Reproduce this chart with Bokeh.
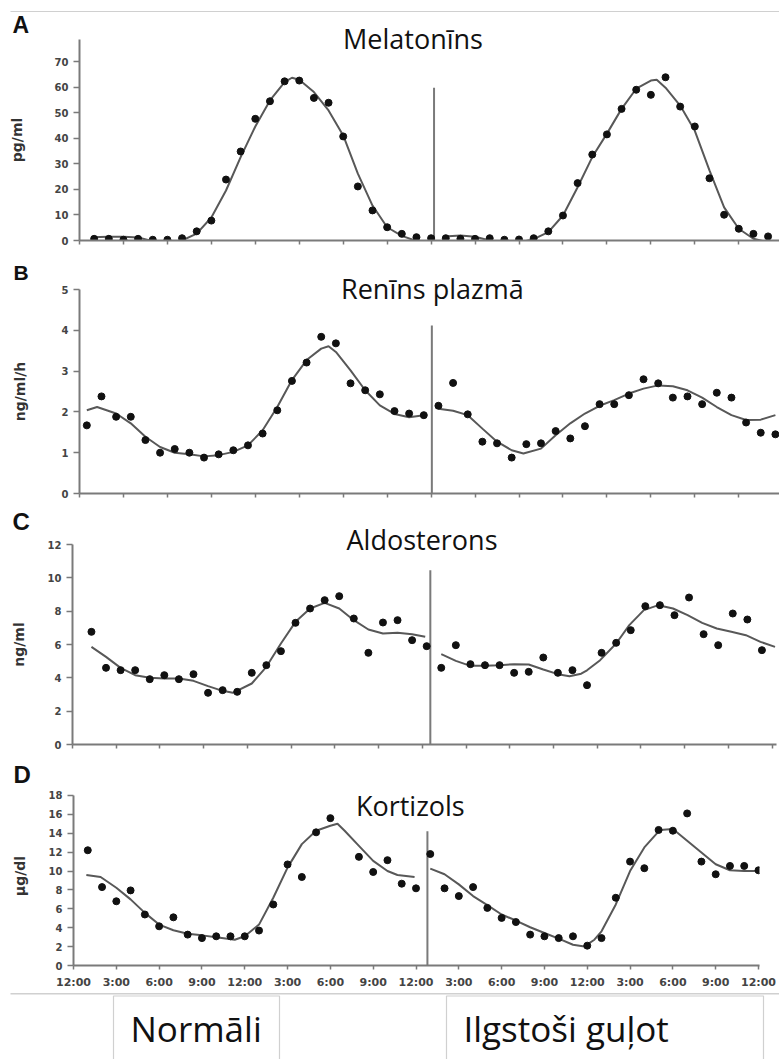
from bokeh.plotting import figure
from bokeh.layouts import column
from bokeh.models import Range1d, FixedTicker, Label, Title
from bokeh.core.properties import value
from bokeh.embed import file_html
from bokeh.resources import INLINE

# ---------------- data ----------------
tick_hours = [0, 3, 6, 9, 12, 15, 18, 21, 24, 27, 30, 33, 36, 39, 42, 45, 48]
tick_labels = ["12:00", "3:00", "6:00", "9:00", "12:00", "3:00", "6:00", "9:00",
               "12:00", "3:00", "6:00", "9:00", "12:00", "3:00", "6:00", "9:00", "12:00"]
groups = ["Normāli", "Ilgstoši guļot"]

# A: Melatonin (pg/ml)
mel_n_h = [1, 2, 3, 4, 5, 6, 7, 8, 9, 10, 11, 12, 13, 14, 15, 16, 17, 18, 19, 20, 21, 22, 23, 24]
mel_n_v = [0.65, 0.65, 0.3, 0.65, 0.3, 0.3, 0.9, 3.6, 7.8, 23.9, 34.9, 47.7, 54.6, 62.4,
           62.7, 55.9, 54.0, 40.8, 21.2, 11.8, 5.2, 2.6, 1.3, 0.9]
mel_l_h = [25, 26, 27, 28, 29, 30, 31, 32, 33, 34, 35, 36, 37, 38, 39, 40, 41, 42, 43, 44, 45, 46, 47]
mel_l_v = [0.9, 0.65, 0.65, 0.9, 0.3, 0.4, 0.9, 3.6, 9.8, 22.5, 33.7, 41.6, 51.6, 59.1,
           57.1, 64.0, 52.5, 44.7, 24.4, 10.1, 4.6, 2.6, 1.6]
mel_n_fit_h = [0.8, 2, 3, 4, 5, 5.5, 6.5, 7, 8, 9, 10, 11, 12, 13, 14, 14.5, 15, 16, 17, 18,
               19, 20, 21, 22, 23, 24]
mel_n_fit_v = [1.3, 1.5, 1.5, 1.2, -0.3, -0.8, -0.7, 0.0, 2.7, 9.0, 19.6, 32.7, 44.7, 54.9,
               62.1, 63.8, 63.0, 58.2, 51.0, 41.2, 26.2, 13.7, 5.2, 1.8, -0.2, -0.5]
mel_l_fit_h = [24.9, 26, 27, 28, 29, 30, 31, 32, 33, 34, 35, 36, 37, 38, 39, 39.4, 40, 41,
               42, 43, 44, 45, 46, 47, 47.8]
mel_l_fit_v = [1.6, 2.0, 1.5, 0.0, -0.8, -0.8, 0.5, 3.3, 9.8, 20.9, 32.7, 41.9, 51.6, 59.5,
               62.7, 63.0, 59.9, 52.9, 43.0, 27.5, 13.0, 4.6, 0.7, -0.7, -0.3]

# B: Plasma renin (ng/ml/h)
ren_n_h = [0.5, 1.5, 2.5, 3.5, 4.5, 5.5, 6.5, 7.5, 8.5, 9.5, 10.5, 11.5, 12.5, 13.5, 14.5,
           15.5, 16.5, 17.5, 18.5, 19.5, 20.5, 21.5, 22.5, 23.5]
ren_n_v = [1.67, 2.38, 1.88, 1.88, 1.31, 1.0, 1.09, 1.0, 0.88, 0.96, 1.06, 1.18, 1.47, 2.04,
           2.76, 3.21, 3.84, 3.68, 2.7, 2.53, 2.43, 2.02, 1.96, 1.92]
ren_l_h = [24.5, 25.5, 26.5, 27.5, 28.5, 29.5, 30.5, 31.5, 32.5, 33.5, 34.5, 35.5, 36.5,
           37.5, 38.5, 39.5, 40.5, 41.5, 42.5, 43.5, 44.5, 45.5, 46.5, 47.5]
ren_l_v = [2.15, 2.71, 1.94, 1.27, 1.23, 0.88, 1.21, 1.23, 1.53, 1.35, 1.65, 2.19, 2.19,
           2.41, 2.8, 2.7, 2.35, 2.38, 2.19, 2.47, 2.35, 1.74, 1.49, 1.45]
ren_n_fit_h = [0.5, 1.2, 2.5, 3.5, 4.5, 5.5, 6.5, 7.5, 8.5, 9.5, 10.5, 11.5, 12.5, 13.5,
               14.5, 15.5, 16.5, 17.0, 17.5, 18.5, 19.5, 20.5, 21.5, 22.5, 23.5]
ren_n_fit_v = [2.04, 2.12, 1.96, 1.72, 1.39, 1.14, 1.0, 0.96, 0.91, 0.94, 1.02, 1.18, 1.55,
               2.12, 2.78, 3.27, 3.55, 3.61, 3.47, 3.02, 2.53, 2.16, 1.95, 1.87, 1.92]
ren_l_fit_h = [24.5, 25.5, 26.5, 27.5, 28.5, 29.5, 30.3, 31.5, 32.5, 33.5, 34.5, 35.5, 36.5,
               37.5, 38.5, 39.5, 40.5, 41.5, 42.5, 43.5, 44.5, 45.5, 46.5, 47.5]
ren_l_fit_v = [2.08, 2.03, 1.92, 1.59, 1.27, 1.06, 0.98, 1.1, 1.43, 1.72, 1.96, 2.15, 2.29,
               2.45, 2.57, 2.65, 2.63, 2.53, 2.35, 2.12, 1.92, 1.8, 1.81, 1.92]

# C: Aldosterone (ng/ml)
ald_n_h = [1.3, 2.3, 3.3, 4.3, 5.3, 6.3, 7.3, 8.3, 9.3, 10.3, 11.3, 12.3, 13.3, 14.3, 15.3,
           16.3, 17.3, 18.3, 19.3, 20.3, 21.3, 22.3, 23.3, 24.3]
ald_n_v = [6.76, 4.6, 4.46, 4.46, 3.92, 4.16, 3.92, 4.22, 3.1, 3.26, 3.16, 4.3, 4.76, 5.6,
           7.3, 8.16, 8.66, 8.9, 7.56, 5.5, 7.32, 7.46, 6.26, 5.9]
ald_l_h = [25.3, 26.3, 27.3, 28.3, 29.3, 30.3, 31.3, 32.3, 33.3, 34.3, 35.3, 36.3, 37.3,
           38.3, 39.3, 40.3, 41.3, 42.3, 43.3, 44.3, 45.3, 46.3, 47.3]
ald_l_v = [4.6, 5.96, 4.82, 4.76, 4.76, 4.3, 4.36, 5.22, 4.3, 4.46, 3.56, 5.5, 6.1, 6.86,
           8.3, 8.36, 7.76, 8.82, 6.62, 5.96, 7.86, 7.5, 5.66]
ald_n_fit_h = [1.3, 2.3, 3.3, 4.3, 5.3, 6.3, 7.3, 8.3, 9.3, 10.3, 11.0, 12.3, 13.3, 14.3,
               15.3, 16.3, 17.3, 18.3, 19.3, 20.3, 21.3, 22.3, 23.3, 24.2]
ald_n_fit_v = [5.86, 5.26, 4.6, 4.16, 4.0, 3.96, 3.96, 3.82, 3.5, 3.22, 3.1, 3.66, 4.66,
               6.06, 7.36, 8.16, 8.5, 8.16, 7.46, 6.9, 6.66, 6.7, 6.62, 6.46]
ald_l_fit_h = [25.3, 26.3, 27.3, 28.3, 29.3, 30.3, 31.3, 32.3, 33.3, 34.1, 34.9, 35.3, 36.2,
               37.3, 38.2, 39.2, 40.2, 41.2, 42.2, 43.2, 44.2, 45.2, 46.2, 47.2, 48.2]
ald_l_fit_v = [5.42, 5.02, 4.72, 4.72, 4.76, 4.82, 4.8, 4.5, 4.22, 4.1, 4.25, 4.45, 5.06,
               6.06, 7.16, 8.06, 8.36, 8.16, 7.76, 7.3, 6.96, 6.76, 6.56, 6.16, 5.86]

# D: Cortisol (ug/dl)
cor_n_h = [1, 2, 3, 4, 5, 6, 7, 8, 9, 10, 11, 12, 13, 14, 15, 16, 17, 18, 20, 21, 22, 23, 24]
cor_n_v = [12.2, 8.3, 6.8, 7.95, 5.4, 4.15, 5.1, 3.27, 2.9, 3.09, 3.09, 3.09, 3.7, 6.46,
           10.7, 9.37, 14.1, 15.6, 11.5, 9.9, 11.15, 8.66, 8.17]
cor_l_h = [25, 26, 27, 28, 29, 30, 31, 32, 33, 34, 35, 36, 37, 38, 39, 40, 41, 42, 43, 44,
           45, 46, 47, 48]
cor_l_v = [11.8, 8.17, 7.35, 8.3, 6.1, 5.04, 4.6, 3.27, 3.09, 2.9, 3.09, 2.1, 2.9, 7.17,
           11.0, 10.3, 14.35, 14.27, 16.1, 11.0, 9.66, 10.54, 10.54, 10.08]
cor_n_fit_h = [0.9, 1.9, 3, 4, 5, 6, 7, 8, 9, 10, 11.3, 12, 13, 14, 15, 16, 17, 18, 18.5,
               19, 20, 21, 22, 22.7, 23.9]
cor_n_fit_v = [9.58, 9.37, 8.23, 7.0, 5.57, 4.33, 3.73, 3.37, 3.19, 2.98, 2.73, 3.09, 4.33,
               7.17, 10.36, 12.85, 14.27, 14.8, 15.0, 14.27, 12.67, 11.07, 10.0, 9.58, 9.37]
cor_l_fit_h = [25, 26, 27, 28, 29, 30, 31, 32, 33, 34, 35, 35.8, 36.5, 37, 38, 39, 40, 41.1,
               42, 43, 44, 45, 46, 47, 48]
cor_l_fit_v = [10.26, 9.66, 8.59, 7.35, 6.39, 5.4, 4.76, 4.05, 3.44, 2.84, 2.2, 2.02, 2.73,
               3.62, 6.46, 10.0, 12.5, 14.35, 14.45, 13.2, 11.96, 10.72, 10.08, 10.0, 10.0]

# divider between the two conditions (hour position, height)
divider_h = [24.2, 24.05, 24.55, 24.8]
divider_top = [59.9, 4.12, 10.46, 14.2]

titles = ["Melatonīns", "Renīns plazmā", "Aldosterons", "Kortizols"]
letters = ["A", "B", "C", "D"]
ylabels = ["pg/ml", "ng/ml/h", "ng/ml", "µg/dl"]
yticks = [[0, 10, 20, 30, 40, 50, 60, 70], [0, 1, 2, 3, 4, 5],
          [0, 2, 4, 6, 8, 10, 12], [0, 2, 4, 6, 8, 10, 12, 14, 16, 18]]
y_axis_top = [78.8, 5.0, 12.0, 18.0]

# ---------------- styling / layout ----------------
W = 779
AX = "#7a7a7a"
CURVE = "#585858"
DOT = "#111111"
LIGHT = "#d0d0d0"


def base_fig(height, xr, yr, top=0, bottom=0, left=0, right=0, axes=True):
    kw = {}
    if not axes:
        kw = dict(x_axis_location=None, y_axis_location=None)
    p = figure(width=W, height=height, x_range=xr, y_range=yr,
               output_backend="svg", toolbar_location=None,
               min_border_top=top, min_border_bottom=bottom,
               min_border_left=left, min_border_right=right, **kw)
    p.frame_align = False
    p.grid.visible = False
    p.outline_line_color = None
    p.background_fill_color = "white"
    p.border_fill_color = "white"
    return p


def panel(i, height, top, bottom, left, right, x_end, y_end, ystand,
          nh, nv, lh, lv, nfh, nfv, lfh, lfv, show_x,
          main_title, letter_title, in_frame_title=None):
    p = base_fig(height, Range1d(0, x_end), Range1d(0, y_end), top, bottom, left, right)
    # y axis
    ya = p.yaxis[0]
    ya.ticker = FixedTicker(ticks=yticks[i])
    ya.bounds = (0, y_axis_top[i])
    ya.axis_label = ylabels[i]
    ya.axis_label_text_font = "DejaVu Sans"
    ya.axis_label_text_font_style = "bold"
    ya.axis_label_text_font_size = "14px"
    ya.axis_label_text_color = "#333333"
    ya.axis_label_standoff = ystand
    ya.major_label_text_font = "DejaVu Sans"
    ya.major_label_text_font_style = "bold"
    ya.major_label_text_font_size = "10px"
    ya.major_label_text_color = "#444444"
    ya.major_label_standoff = 5
    # x axis
    xa = p.xaxis[0]
    xa.ticker = FixedTicker(ticks=tick_hours)
    if show_x:
        xa.major_label_overrides = {h: t for h, t in zip(tick_hours, tick_labels)}
        xa.major_label_text_font = "DejaVu Sans"
        xa.major_label_text_font_style = "bold"
        xa.major_label_text_font_size = "11px"
        xa.major_label_text_color = "#444444"
        xa.major_label_standoff = 6
    else:
        xa.major_label_overrides = {h: "" for h in tick_hours}
        xa.major_label_text_font_size = "8px"
        xa.major_label_standoff = 0
    for ax in (xa, ya):
        ax.axis_line_color = AX
        ax.axis_line_width = 2
        ax.major_tick_line_color = AX
        ax.major_tick_line_width = 1.5
        ax.major_tick_in = 0
        ax.minor_tick_in = 0
        ax.minor_tick_out = 0
    xa.major_tick_out = 4
    ya.major_tick_out = 6

    # divider
    p.segment(x0=[divider_h[i]], y0=[0], x1=[divider_h[i]], y1=[divider_top[i]],
              line_color=AX, line_width=2)
    # fitted curves
    p.line(nfh, nfv, line_color=CURVE, line_width=2)
    p.line(lfh, lfv, line_color=CURVE, line_width=2)
    # measurements
    p.scatter(nh, nv, size=7, color=DOT)
    p.scatter(lh, lv, size=7, color=DOT)

    # headings (side-panel titles are not clipped to the plot frame)
    if main_title is not None:
        off, stand = main_title
        p.add_layout(Title(text=titles[i], align="left", offset=off, standoff=stand,
                           vertical_align="bottom", text_font="Open Sans",
                           text_font_style="normal", text_font_size="27px",
                           text_color="#111111"), "above")
    off, stand, fsize = letter_title
    p.add_layout(Title(text=letters[i], align="left", offset=off, standoff=stand,
                       vertical_align="bottom", text_font="Liberation Sans",
                       text_font_style="bold", text_font_size=f"{fsize}px",
                       text_color="#111111"), "above")
    if in_frame_title is not None:
        p.add_layout(Label(x=in_frame_title[0], y=in_frame_title[1], text=titles[i],
                           text_font="Open Sans", text_font_size="27px",
                           text_color="#111111", text_align="center",
                           text_baseline="alphabetic"))
    return p


# thin separator strip at the top
strip = base_fig(12, Range1d(0, W), Range1d(12, 0), axes=False)
strip.segment(x0=[10], y0=[11.3], x1=[W], y1=[11.3], line_color=LIGHT, line_width=1.5)

pA = panel(0, 243, 27, 15, 79, 0, 47.78, 78.8, 27,
           mel_n_h, mel_n_v, mel_l_h, mel_l_v, mel_n_fit_h, mel_n_fit_v, mel_l_fit_h, mel_l_fit_v,
           False, (263.5, -35.8), (-67, -3.7, 23))
pB = panel(1, 253, 34, 15, 79, 0, 47.78, 5.0, 31,
           ren_n_h, ren_n_v, ren_l_h, ren_l_v, ren_n_fit_h, ren_n_fit_v, ren_l_fit_h, ren_l_fit_v,
           False, (261.5, -35.8), (-66, 5.6, 21))
pC = panel(2, 253, 36, 17, 72, 3, 48.3, 12.0, 18,
           ald_n_h, ald_n_v, ald_l_h, ald_l_v, ald_n_fit_h, ald_n_fit_v, ald_l_fit_h, ald_l_fit_v,
           False, (274, -27.8), (-60, -3.8, 24))
pD = panel(3, 231, 25, 27, 73, 20, 48.07, 18.95, 18,
           cor_n_h, cor_n_v, cor_l_h, cor_l_v, cor_n_fit_h, cor_n_fit_v, cor_l_fit_h, cor_l_fit_v,
           True, None, (-60, -3.8, 24), in_frame_title=(23.6, 16.99))

# bottom strip with the two condition labels
bot = base_fig(67, Range1d(0, W), Range1d(67, 0), axes=False)
bot.segment(x0=[10], y0=[1.3], x1=[W], y1=[1.3], line_color=LIGHT, line_width=1.5)
bot.quad(left=[113, 446], right=[279, 763], top=[3.5, 3.5], bottom=[90, 90],
         fill_color=None, line_color=LIGHT, line_width=1.2)
bot.text(x=[130, 463], y=[36, 36], text=groups, text_font=value("Open Sans"),
         text_font_size="35px", text_color="#111111", text_align="left",
         text_baseline="alphabetic")

layout = column(strip, pA, pB, pC, pD, bot, spacing=0)
open("out.html", "w").write(file_html(layout, INLINE))
